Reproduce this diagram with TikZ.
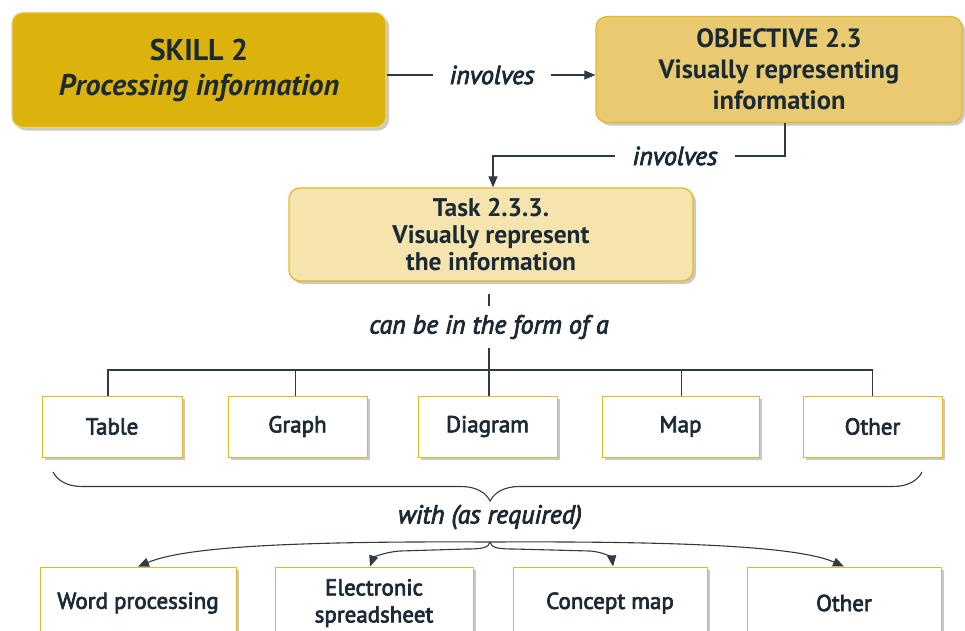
\documentclass[tikz,border=0pt]{standalone}
\usepackage{fontspec}
\setmainfont{PT Sans}
\newfontfamily\medfont[FakeBold=3]{PT Sans}
\usetikzlibrary{arrows.meta,shadows,decorations.pathreplacing}
\definecolor{txt}{HTML}{1C2A36}
\definecolor{ln}{HTML}{2E3A45}
\definecolor{goldA}{HTML}{DCB20C}
\definecolor{goldB}{HTML}{E9CA70}
\definecolor{goldC}{HTML}{F6E4AF}
\definecolor{bord}{HTML}{E3B827}
\definecolor{bordlight}{HTML}{EFD27C}
\begin{document}
\begin{tikzpicture}[x=1pt,y=-1pt,
  every node/.style={text=txt, align=center, inner sep=0pt},
  sh/.style={drop shadow={shadow xshift=3pt,shadow yshift=-3pt,opacity=0.3,fill=black!70}},
  topbox/.style={line width=1.2pt, rounded corners=11pt, sh},
  leaf/.style={draw=bord, fill=white, line width=1pt, sh, minimum height=61pt,
    font=\medfont\fontsize{23}{27}\selectfont},
  leafb/.style={leaf, minimum height=72pt},
  lbl/.style={font=\medfont\itshape\fontsize{26}{28}\selectfont, fill=white},
  conn/.style={draw=ln, line width=1.1pt},
  arr/.style={conn, -{Triangle[length=11pt,width=9pt]}}]
\useasboundingbox (0,0) rectangle (965,630);
\clip (0,0) rectangle (965,630);

% top boxes
\node[topbox, draw=bordlight, fill=goldA, minimum width=374pt, minimum height=115pt,
  font=\bfseries\fontsize{30}{35}\selectfont] (skill) at (199,70)
  {SKILL 2\\ \textit{Processing information}};
\node[topbox, draw=bord, fill=goldB, minimum width=366pt, minimum height=106pt,
  font=\bfseries\fontsize{26.5}{31}\selectfont] (obj) at (779,69.5)
  {OBJECTIVE 2.3\\ Visually representing\\ information};
\node[topbox, draw=bord, fill=goldC, minimum width=404pt, minimum height=93pt,
  font=\bfseries\fontsize{25.5}{27}\selectfont] (task) at (491,234.5)
  {Task 2.3.3.\\ Visually represent\\ the information};

% labels
\node[lbl, inner xsep=16pt] (invA) at (492,75) {involves};
\node[lbl, inner xsep=17pt] (invB) at (675,156) {involves};
\node[lbl, inner ysep=9pt] (form) at (489,327) {can be in the form of a};
\node[lbl, inner ysep=8pt] (with) at (490,517) {with (as required)};

% row 1
\node[leaf, minimum width=140pt] (table) at (112,426.5) {Table};
\node[leaf, minimum width=139pt] (graph) at (297.5,426.5) {Graph};
\node[leaf, minimum width=139pt] (diagram) at (487.5,426.5) {Diagram};
\node[leaf, minimum width=157pt] (map) at (680.5,426.5) {Map};
\node[leaf, minimum width=139pt] (other) at (872.5,426.5) {Other};

% row 2
\node[leafb, minimum width=196pt] (wp) at (138,603) {Word processing};
\node[leafb, minimum width=198pt] (es) at (374,603) {Electronic\\ spreadsheet};
\node[leafb, minimum width=194pt] (cm) at (610,603) {Concept map};
\node[leafb, minimum width=194pt] (oth) at (844,603) {Other};

% connectors top
\draw[conn] (skill.east |- invA) -- (invA.west);
\draw[arr] (invA.east) -- (obj.west |- invA);
\draw[conn] ([xshift=6pt]obj.south) |- (invB.east);
\draw[arr] (invB.west) -| ([xshift=2pt]task.north);

% task to form
\coordinate (hub) at (489,370);
\draw[conn] ([yshift=-12pt]task.south -| form.north) -- (form.north);
\draw[conn] (form.south) -- (hub);
\draw[conn] ([xshift=-4pt]table.north) -- ([xshift=-4pt]table.north |- hub)
  -- (other.north |- hub) -- (other.north);
\draw[conn] ([xshift=-2pt]graph.north) -- ([xshift=-2pt]graph.north |- hub);
\draw[conn] (diagram.north -| hub) -- (hub);
\draw[conn] ([xshift=1pt]map.north) -- ([xshift=1pt]map.north |- hub);

% brace
\coordinate (bl) at (53,472);
\coordinate (br) at (922,472);
\draw[conn, decorate, decoration={brace, mirror, amplitude=29pt, aspect=0.503}] (bl) -- (br);

% bottom branches
\coordinate (hub2) at (490,542);
\draw[arr] (hub2) .. controls (290,541) and (185,547) .. (wp.north);
\draw[arr] (hub2) .. controls (489,548) and (481,549) .. (466,549) -- (400,551)
  .. controls (384,552) and (373,558) .. ([xshift=-4pt]es.north);
\draw[arr] (hub2) .. controls (491,548) and (499,549) .. (514,549) -- (590,551)
  .. controls (604,552) and (612,558) .. ([xshift=3pt]cm.north);
\draw[arr] (hub2) .. controls (690,541) and (800,547) .. (oth.north);
\end{tikzpicture}
\end{document}
